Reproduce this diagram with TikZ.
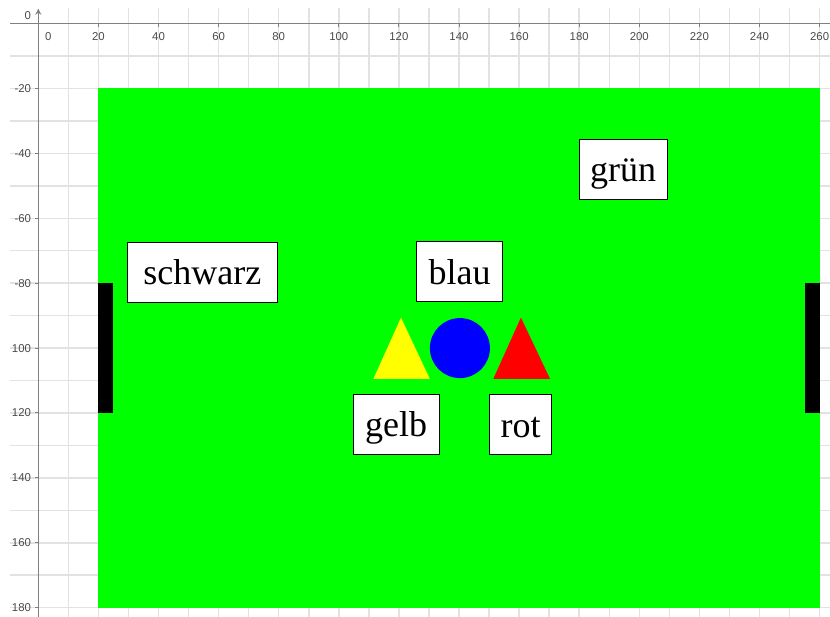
\documentclass[tikz,border=0pt]{standalone}
\usepackage{fontspec}
\setmainfont{Liberation Serif}
\newfontfamily\axisfont{Liberation Sans}
\usetikzlibrary{arrows.meta}
\definecolor{clrField}{HTML}{00FF00}
\definecolor{clrGelb}{HTML}{FFFF00}
\definecolor{clrBlau}{HTML}{0000FF}
\definecolor{clrRot}{HTML}{FF0000}
\definecolor{clrGrid}{HTML}{E2E2E2}
\definecolor{clrAxis}{HTML}{808080}
\definecolor{clrTick}{HTML}{4A4A4A}
\tikzset{
  gridline/.style = {draw=clrGrid, line width=0.75pt},
  axis/.style = {draw=clrAxis, line width=0.75pt},
  tickmark/.style = {draw=clrAxis, line width=0.5pt},
  ticklabel/.style = {font=\axisfont\fontsize{5.7}{6}\selectfont, text=clrTick, inner sep=0pt},
  tag/.style = {rectangle, draw, line width=0.5pt, fill=white, minimum height=30pt,
                minimum width=42.85pt, inner xsep=5.5pt, text height=12.5pt, text depth=0pt,
                font=\fontsize{18}{20}\selectfont},
}

\begin{document}
\begin{tikzpicture}[x=1.5025pt, y=1.6225pt]
\useasboundingbox (-12.75,7.27) rectangle (263.46,-182.87);

% Grid
\foreach \gx in {10,20,...,260}
  \draw[gridline] (\gx,4.8) -- (\gx,-183);
\foreach \gy in {-10,-20,...,-180}
  \draw[gridline] (-9.4,\gy) -- (264,\gy);

% Axes
\draw[axis] (-9.4,0) -- (264,0);
\draw[axis, -{Stealth[length=3pt,width=3pt]}] (0,-183) -- (0,4.6);
\foreach \gx in {20,40,...,260} {
  \draw[tickmark] (\gx,0) -- (\gx,-1);
  \node[ticklabel] at (\gx,-4.05) {\gx};
}
\node[ticklabel] at (3.3,-4.05) {0};
\node[ticklabel, anchor=east] at (-2.3,2.35) {0};
\foreach \gy in {20,40,60,80} {
  \draw[tickmark] (0,-\gy) -- (-1,-\gy);
  \node[ticklabel, anchor=east] at (-2.3,-\gy) {-\gy};
}
\foreach \gy in {100,120,...,180} {
  \draw[tickmark] (0,-\gy) -- (-1,-\gy);
  \node[ticklabel, anchor=east] at (-2.3,-\gy) {\gy};
}

% Field and goals
\fill[clrField] (20,-20) rectangle (260,-180);
\fill[black] (20,-80) rectangle (25,-120);
\fill[black] (255,-80) rectangle (260,-120);

% Pieces
\fill[clrGelb] (111.5,-109.5) -- (130.3,-109.5) -- (120.7,-90.6) -- cycle;
\fill[clrBlau] (140.3,-100) circle[radius=15pt];
\fill[clrRot] (151.4,-109.5) -- (170.3,-109.5) -- (160.6,-90.6) -- cycle;

% Labels
\node[tag, minimum width=75pt] (schwarz) at (54.58,-76.7) {schwarz};
\node[tag] (blau) at (140.17,-76.55) {blau};
\node[tag] (gruen) at (194.64,-44.87) {grün};
\node[tag] (gelb) at (119.1,-123.45) {gelb};
\node[tag, minimum width=31pt] (rot) at (160.53,-123.7) {rot};
\end{tikzpicture}
\end{document}
